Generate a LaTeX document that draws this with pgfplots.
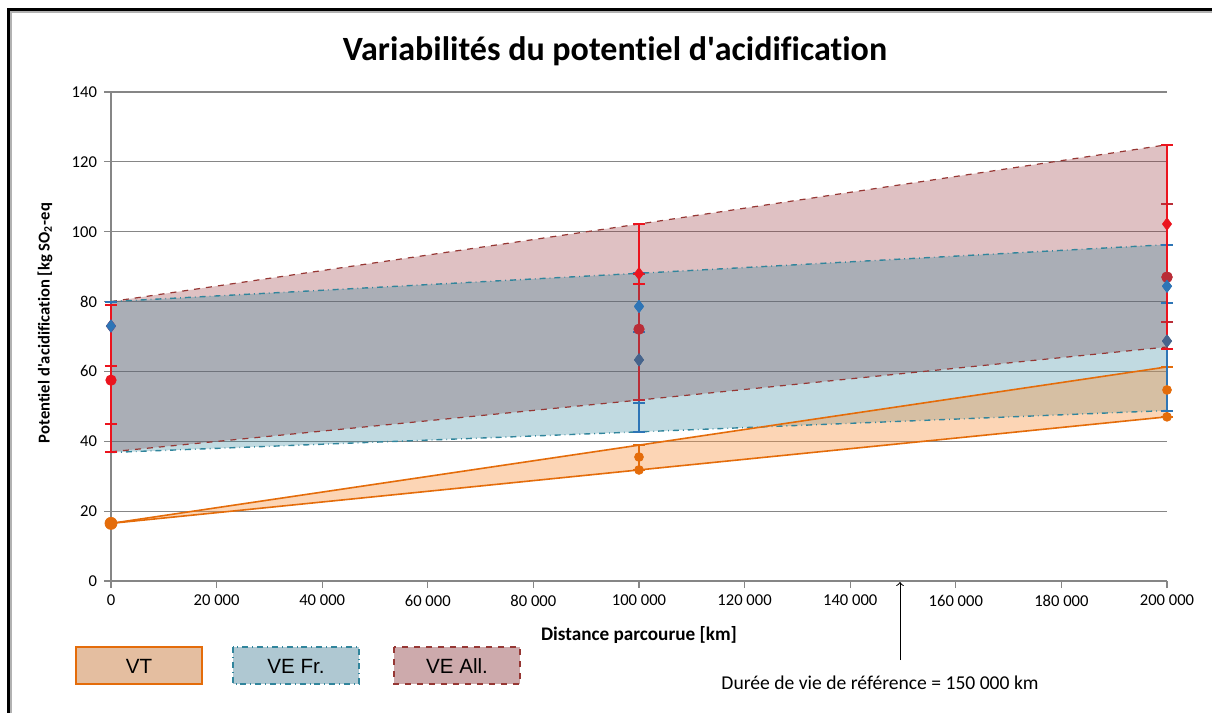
\documentclass[border=0pt]{standalone}
\usepackage{pgfplots}
\pgfplotsset{compat=1.18}
\usepackage{fontspec}
\setmainfont{Carlito}[Ligatures={NoCommon}]
\newfontfamily\arialf{Liberation Sans}
\definecolor{vtline}{RGB}{228,108,10}
\definecolor{vtfill}{RGB}{247,150,70}
\definecolor{frline}{RGB}{49,133,156}
\definecolor{frfill}{RGB}{49,133,155}
\definecolor{allline}{RGB}{150,55,52}
\definecolor{allfill}{RGB}{150,50,55}
\definecolor{brightred}{RGB}{235,20,30}
\definecolor{darkred}{RGB}{185,45,55}
\definecolor{bluemark}{RGB}{46,117,182}
\definecolor{bluemarkb}{RGB}{70,100,140}
\definecolor{gridc}{RGB}{134,134,134}
\begin{document}
\begin{tikzpicture}[x=0.5pt,y=0.5pt]
\useasboundingbox (0,0) rectangle (1212,-713);
\draw[gray!60, line width=0.6pt] (11,-713) -- (11,-12) -- (1212,-12);
\draw[black, line width=1.3pt] (8.5,-713) -- (8.5,-9.5) -- (1212,-9.5);
\begin{axis}[
  at={(55.5pt,-290.5pt)}, anchor=south west,
  scale only axis, width=528pt, height=244.5pt,
  xmin=0, xmax=200000, ymin=0, ymax=140,
  xtick={0,20000,...,200000},
  xticklabels={0,20 000,40 000,60 000,80 000,100 000,120 000,140 000,160 000,180 000,200 000},
  ytick={0,20,...,140},
  axis x line*=bottom, axis y line*=left,
  axis line style={gridc, line width=0.6pt, -},
  tick style={gridc, line width=0.6pt},
  tick align=outside, major tick length=3.5pt,
  ymajorgrids, grid style={gridc, line width=0.6pt},
  tick label style={font=\fontsize{8.3}{9}\selectfont, black},
  /pgf/number format/assume math mode=true,
  scaled x ticks=false,
  clip=false,
  error bars/error mark options={rotate=90, mark size=3pt, line width=1pt},
]
% areas
\addplot[draw=none, fill=allfill, fill opacity=0.3] coordinates {(0,80) (100000,102.2) (200000,124.9) (200000,67) (100000,51.8) (0,37)} -- cycle;
\addplot[draw=none, fill=frfill, fill opacity=0.3] coordinates {(0,80) (100000,88.1) (200000,96.3) (200000,48.8) (100000,42.7) (0,36.8)} -- cycle;
\addplot[draw=none, fill=vtfill, fill opacity=0.4] coordinates {(0,16.5) (100000,38.9) (200000,61.3) (200000,47) (100000,31.8) (0,16.5)} -- cycle;
% boundary lines
\addplot[allline, dashed, line width=0.6pt] coordinates {(0,80) (100000,102.2) (200000,124.9)};
\addplot[allline, dashed, line width=0.6pt] coordinates {(0,37) (100000,51.8) (200000,67)};
\addplot[frline, dash dot, line width=0.7pt] coordinates {(0,80) (100000,88.1) (200000,96.3)};
\addplot[frline, dash dot, line width=0.7pt] coordinates {(0,36.8) (100000,42.7) (200000,48.8)};
\addplot[vtline, line width=0.8pt] coordinates {(0,16.5) (100000,38.9) (200000,61.3)};
\addplot[vtline, line width=0.8pt] coordinates {(0,16.5) (100000,31.8) (200000,47)};
% VT points with error bars
\addplot[vtline, only marks, mark=*, mark size=2.2pt,
  error bars/.cd, y dir=both, y explicit, error bar style={vtline, line width=0.8pt}]
  coordinates {(0,16.5) +- (0,0) (100000,35.5) += (0,3.4) -= (0,3.7) (200000,54.7) += (0,6.6) -= (0,7.7)};
\addplot[vtline, only marks, mark=*, mark size=2.2pt] coordinates {(100000,31.8) (200000,47)};
\addplot[vtline, only marks, mark=*, mark size=3pt] coordinates {(0,16.5)};
% VE Fr. error bars (under red)
\addplot[bluemark, only marks, mark=diamond*, mark size=3pt,
  error bars/.cd, y dir=both, y explicit, error bar style={bluemark, line width=1pt}]
  coordinates {(0,73) += (0,7) -= (0,36.2) (100000,78.6) += (0,9.5) -= (0,27.7) (200000,84.4) += (0,11.9) -= (0,4.8)};
\addplot[bluemarkb, only marks, mark=diamond*, mark size=3pt,
  error bars/.cd, y dir=both, y explicit, error bar style={bluemark, line width=1pt}]
  coordinates {(100000,63.3) += (0,8) -= (0,20.6) (200000,68.7) += (0,10.9) -= (0,19.9)};
% VE All.
\addplot[darkred, only marks, mark=*, mark size=2.6pt,
  error bars/.cd, y dir=both, y explicit, error bar style={darkred, line width=1pt}]
  coordinates {(100000,72.1) += (0,15.9) -= (0,20.3) (200000,87) += (0,20.9) -= (0,12.9)};
\addplot[brightred, only marks, mark=diamond*, mark size=3pt,
  error bars/.cd, y dir=both, y explicit, error bar style={brightred, line width=1pt}]
  coordinates {(0,73) += (0,6) -= (0,36) (100000,88) += (0,14.2) -= (0,3) (200000,102.2) += (0,22.7) -= (0,35.8)};
\addplot[brightred, only marks, mark=*, mark size=2.6pt,
  error bars/.cd, y dir=both, y explicit, error bar style={brightred, line width=1pt}]
  coordinates {(0,57.5) += (0,4) -= (0,12.5)};
\addplot[darkred, only marks, mark=*, mark size=2.6pt] coordinates {(200000,87)};
% blue markers on top
\addplot[bluemark, only marks, mark=diamond*, mark size=3pt] coordinates {(0,73) (100000,78.6) (200000,84.4)};
\addplot[bluemarkb, only marks, mark=diamond*, mark size=3pt] coordinates {(100000,63.3) (200000,68.7)};
\end{axis}
% axis titles
\node[font=\fontsize{9.6}{11}\selectfont\bfseries, anchor=base] at (639,-640) {Distance parcourue [km]};
\node[font=\fontsize{8.3}{10}\selectfont\bfseries, rotate=90] at (45,-323) {Potentiel d\textquotesingle acidification [kg SO\textsubscript{2}-eq};
% title
\node[font=\fontsize{17}{20}\selectfont\bfseries, anchor=base] at (615,-60) {Variabilités du potentiel d\textquotesingle acidification};
% legend boxes
\draw[vtline, line width=0.8pt, fill={rgb,255:red,228;green,190;blue,160}] (76,-647) rectangle (202,-684);
\node[font=\arialf\fontsize{10.3}{12}\selectfont] at (139,-666) {VT};
\draw[frline, dash dot, line width=0.7pt, fill={rgb,255:red,175;green,200;blue,210}] (233,-647) rectangle (359,-684);
\node[font=\arialf\fontsize{10.3}{12}\selectfont] at (296,-666) {VE Fr.};
\draw[allline, dashed, line width=0.7pt, fill={rgb,255:red,205;green,170;blue,172}] (394,-647) rectangle (520,-684);
\node[font=\arialf\fontsize{10.3}{12}\selectfont] at (457,-666) {VE All.};
% annotation
\draw[->, line width=0.5pt] (900,-660) -- (900,-582);
\node[font=\fontsize{9.8}{11}\selectfont] at (880,-683) {Durée de vie de référence = 150 000 km};
\end{tikzpicture}
\end{document}
